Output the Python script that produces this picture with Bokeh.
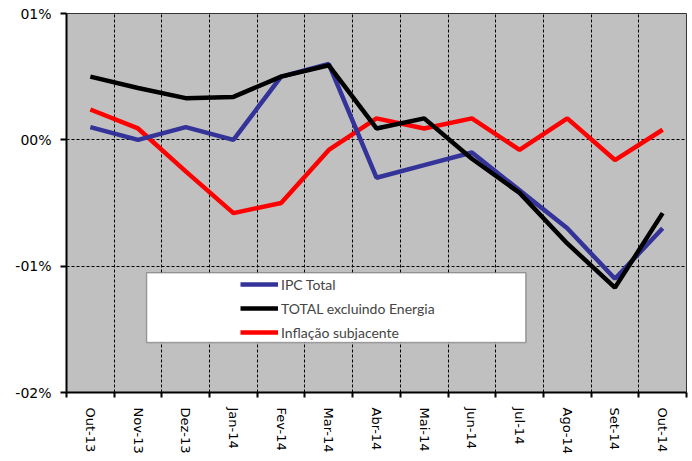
from bokeh.plotting import figure
from bokeh.models import FixedTicker, Legend, LegendItem, BoxAnnotation, Range1d
from bokeh.embed import file_html
from bokeh.resources import INLINE

categories = ["Out-13", "Nov-13", "Dez-13", "Jan-14", "Fev-14", "Mar-14", "Abr-14",
              "Mai-14", "Jun-14", "Jul-14", "Ago-14", "Set-14", "Out-14"]
ipc_total = [0.10, 0.00, 0.10, 0.00, 0.50, 0.60, -0.30, -0.20, -0.10, -0.40, -0.70, -1.10, -0.70]
total_excl_energia = [0.50, 0.41, 0.33, 0.34, 0.50, 0.59, 0.09, 0.17, -0.15, -0.42, -0.82, -1.17, -0.58]
inflacao_subjacente = [0.24, 0.09, -0.25, -0.58, -0.50, -0.08, 0.17, 0.09, 0.17, -0.08, 0.17, -0.16, 0.08]
y_ticks = [-2, -1, 0, 1]
y_tick_labels = ["-02%", "-01%", "00%", "01%"]

x = list(range(len(categories)))
boundaries = [i + 0.5 for i in range(-1, len(categories))]

p = figure(width=688, height=457, output_backend="svg", toolbar_location=None,
           x_range=Range1d(-0.5, len(categories) - 0.5), y_range=Range1d(-2, 1),
           min_border_left=66, min_border_top=13, min_border_right=2, min_border_bottom=64)
p.background_fill_color = "#C0C0C0"
p.border_fill_color = "white"
p.outline_line_color = "#333333"
p.outline_line_width = 1

# x axis
p.xaxis.ticker = FixedTicker(ticks=x, minor_ticks=boundaries)
p.xaxis.major_label_overrides = {i: c for i, c in zip(x, categories)}
p.xaxis.major_label_orientation = "vertical"
p.xaxis.major_tick_out = 0
p.xaxis.major_tick_in = 0
p.xaxis.minor_tick_out = 5
p.xaxis.minor_tick_in = 0
p.xaxis.minor_tick_line_color = "black"
p.xaxis.minor_tick_line_width = 2
p.xaxis.axis_line_color = "black"
p.xaxis.axis_line_width = 2
p.xaxis.major_label_standoff = 10
p.xaxis.major_label_text_font = "DejaVu Sans"
p.xaxis.major_label_text_font_size = "13px"
p.xaxis.major_label_text_color = "black"

# y axis
p.yaxis.ticker = FixedTicker(ticks=y_ticks, minor_ticks=[])
p.yaxis.major_label_overrides = {t: l for t, l in zip(y_ticks, y_tick_labels)}
p.yaxis.major_tick_out = 6
p.yaxis.major_tick_in = 0
p.yaxis.major_tick_line_width = 2
p.yaxis.axis_line_color = "black"
p.yaxis.axis_line_width = 2
p.yaxis.major_label_standoff = 9
p.yaxis.major_label_text_font = "DejaVu Sans"
p.yaxis.major_label_text_font_size = "14px"
p.yaxis.major_label_text_color = "black"

# grids
p.xgrid.ticker = FixedTicker(ticks=boundaries[1:-1])
p.xgrid.grid_line_color = "black"
p.xgrid.grid_line_dash = "3 2"
p.xgrid.grid_line_width = 1
p.ygrid.ticker = FixedTicker(ticks=y_ticks)
p.ygrid.grid_line_color = "black"
p.ygrid.grid_line_dash = "3 2"
p.ygrid.grid_line_width = 1

r_red = p.line(x, inflacao_subjacente, line_color="#FF0000", line_width=4.5)
r_blue = p.line(x, ipc_total, line_color="#333399", line_width=4.5)
r_black = p.line(x, total_excl_energia, line_color="black", line_width=4.5)

# legend frame
box = BoxAnnotation(left=1.18, right=9.13, top=-1.053, bottom=-1.605,
                    fill_color="white", fill_alpha=1.0, line_color="black", line_width=1.5)
p.add_layout(box)

legend = Legend(items=[
    LegendItem(label="IPC Total", renderers=[r_blue]),
    LegendItem(label="TOTAL excluindo Energia", renderers=[r_black]),
    LegendItem(label="Inflação subjacente", renderers=[r_red]),
], location=(174, 50), padding=0, margin=0, spacing=4, glyph_width=38, glyph_height=20,
    label_standoff=3, label_text_font="Lato", label_text_font_size="14px",
    label_height=20, background_fill_alpha=0, border_line_alpha=0)
p.add_layout(legend)

open("out.html", "w").write(file_html(p, INLINE))
